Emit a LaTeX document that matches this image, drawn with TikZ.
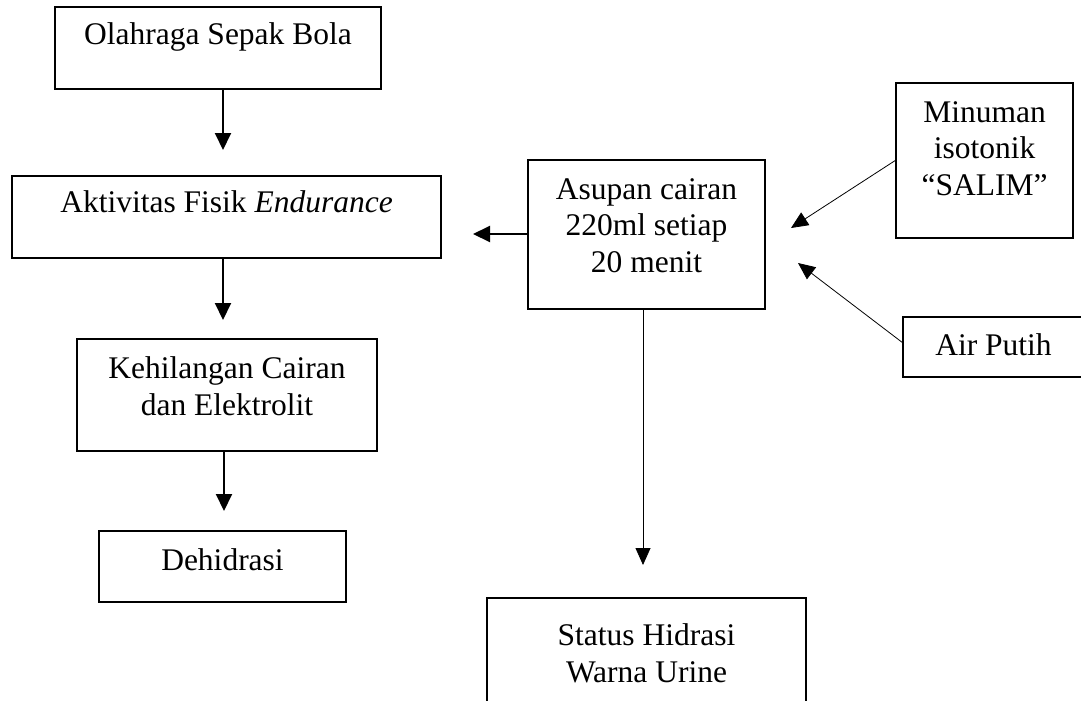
\documentclass[tikz,border=0pt]{standalone}
\usepackage{fontspec}
\setmainfont{Liberation Serif}
\usepackage{tikz}
\usetikzlibrary{arrows.meta}
\usetikzlibrary{calc}

\begin{document}
\begin{tikzpicture}[x=1pt,y=-1pt,
    font=\fontsize{31.5}{36.5}\selectfont,
    box/.style={draw,line width=1.2pt,rectangle,inner sep=0pt,align=center},
    flow/.style={draw,line width=2pt,-{Triangle[width=16pt,length=17pt]}},
    feed/.style={draw,line width=0.8pt,-{Triangle[width=15pt,length=17pt]}}]

  \useasboundingbox (0,0) rectangle (1081,701);

  % left column
  \node [box,minimum width=326pt,text height=38pt,text depth=44pt] (olahraga) at (218,48) {Olahraga Sepak Bola};
  \node [box,minimum width=429pt,text height=36pt,text depth=46pt] (aktivitas) at (226.5,217) {Aktivitas Fisik \textit{Endurance}};
  \node [box,minimum width=300pt,text height=76pt,text depth=36pt] (kehilangan) at (227,395) {Kehilangan Cairan\\dan Elektrolit};
  \node [box,minimum width=247pt,text height=39pt,text depth=32pt] (dehidrasi) at (222.5,566.5) {Dehidrasi};

  % right side
  \node [box,minimum width=237pt,text height=112pt,text depth=37pt] (asupan) at (646.5,234.5) {Asupan cairan\\220ml setiap\\20 menit};
  \node [box,minimum width=177pt,text height=112pt,text depth=43pt] (minuman) at (984.5,160.5) {Minuman\\isotonik\\“SALIM”};
  \node [box,minimum width=181pt,text height=38pt,text depth=22pt] (airputih) at (993.5,347) {Air Putih};
  \node [box,minimum width=319pt,text height=84pt,text depth=33pt] (status) at (646.5,656.5) {Status Hidrasi\\Warna Urine};

  \coordinate (to_aktivitas) at (223,150);
  \coordinate (to_kehilangan) at (223,320);
  \coordinate (to_dehidrasi) at (224,511);
  \coordinate (to_left) at (473,234);
  \coordinate (to_status) at (643,565);
  \coordinate (from_minuman) at (896,160);
  \coordinate (to_minuman) at (791,228);
  \coordinate (from_air) at (903,343);
  \coordinate (to_air) at (798,263);

  \path
    (olahraga.south -| to_aktivitas) edge [flow] (to_aktivitas)
    (aktivitas.south -| to_kehilangan) edge [flow] (to_kehilangan)
    (kehilangan.south -| to_dehidrasi) edge [flow] (to_dehidrasi)
    (asupan.west |- to_left) edge [flow] (to_left);

  \path
    (asupan.south -| to_status) edge [feed] (to_status)
    (from_minuman) edge [feed] (to_minuman)
    (from_air) edge [feed] (to_air);

\end{tikzpicture}
\end{document}
